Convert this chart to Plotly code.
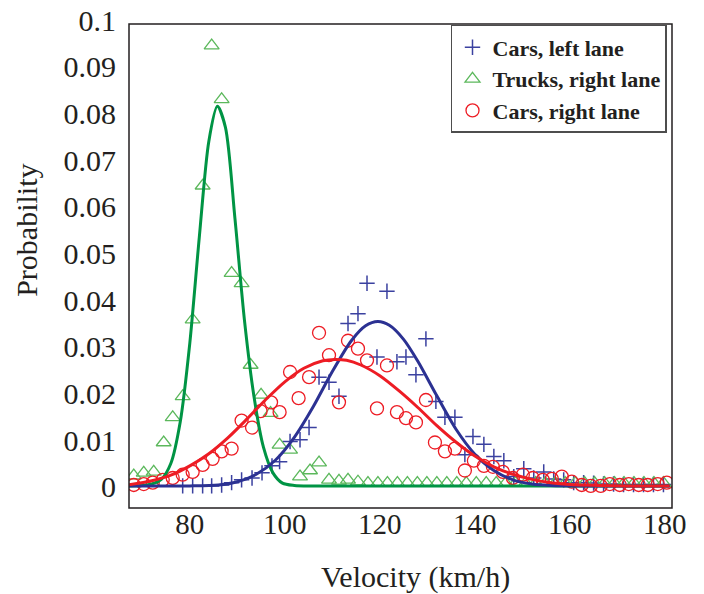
import plotly.graph_objects as go

# ---------------- data ----------------
cars_left_x = [78.5, 80.6, 82.7, 84.6, 86.7, 88.8, 90.9, 93.1, 95.2, 97.3,
               98.9, 101.1, 103.2, 105.1, 107.2, 109.3, 111.4, 113.3, 115.4, 117.3,
               119.4, 121.5, 123.6, 125.5, 127.6, 129.7, 131.8, 133.7, 135.8, 137.9,
               139.6, 141.9, 144.0, 146.1, 148.2, 150.3, 152.4, 154.5, 156.6, 158.7,
               160.8, 162.9, 165.0, 167.1, 169.2, 171.3, 173.4, 175.5, 177.6, 179.7]
cars_left_y = [0.0002, 0.0002, 0.0002, 0.0002, 0.0004, 0.0009, 0.0015, 0.0019, 0.0030, 0.0045,
               0.0054, 0.0097, 0.0101, 0.0127, 0.0235, 0.0224, 0.0194, 0.0350, 0.0371, 0.0436,
               0.0278, 0.0419, 0.0268, 0.0278, 0.0240, 0.0317, 0.0183, 0.0149, 0.0149, 0.0069,
               0.0108, 0.0091, 0.0065, 0.0056, 0.0022, 0.0039, 0.0019, 0.0032, 0.0017, 0.0015,
               0.0009, 0.0009, 0.0008, 0.0006, 0.0006, 0.0005, 0.0005, 0.0005, 0.0005, 0.0005]

trucks_right_x = [68.2, 70.3, 72.4, 74.5, 76.4, 78.5, 80.6, 82.7, 84.6, 86.7,
                  88.8, 90.9, 92.8, 95.0, 97.0, 98.9, 101.1, 103.2, 105.3, 107.2,
                  109.3, 111.4, 113.3, 115.4, 117.5, 119.6, 121.6, 123.7, 125.8, 127.9,
                  129.9, 132.0, 134.1, 136.2, 138.2, 140.3, 142.4, 144.5, 146.5, 148.6,
                  150.7, 152.8, 154.8, 156.9, 159.0, 161.1, 163.1, 165.2, 167.3, 169.4,
                  171.4, 173.5, 175.6, 177.7, 179.7]
trucks_right_y = [0.0024, 0.0030, 0.0032, 0.0095, 0.0149, 0.0194, 0.0358, 0.0645, 0.0945, 0.0830,
                  0.0458, 0.0436, 0.0261, 0.0197, 0.0158, 0.0090, 0.0079, 0.0022, 0.0035, 0.0052,
                  0.0015, 0.0013, 0.0015, 0.0011, 0.0008, 0.0008, 0.0008, 0.0008, 0.0008, 0.0008,
                  0.0008, 0.0008, 0.0008, 0.0008, 0.0008, 0.0008, 0.0008, 0.0008, 0.0008, 0.0008,
                  0.0008, 0.0008, 0.0008, 0.0008, 0.0008, 0.0008, 0.0008, 0.0008, 0.0008, 0.0008,
                  0.0008, 0.0008, 0.0008, 0.0008, 0.0008]

cars_right_x = [68.2, 70.3, 72.2, 74.3, 76.4, 78.5, 80.6, 82.7, 84.8, 86.7,
                88.8, 90.9, 93.1, 94.9, 97.1, 98.9, 101.1, 102.9, 105.1, 107.2,
                109.3, 111.4, 113.3, 115.4, 117.3, 119.4, 121.5, 123.6, 125.5, 127.6,
                129.7, 131.6, 133.7, 135.8, 137.9, 139.8, 141.9, 143.8, 145.9, 148.0,
                150.1, 152.2, 154.3, 156.2, 158.3, 160.4, 162.5, 164.4, 166.5, 168.4,
                170.5, 172.4, 174.5, 176.4, 178.5, 180.4]
cars_right_y = [0.0004, 0.0006, 0.0009, 0.0015, 0.0019, 0.0026, 0.0032, 0.0047, 0.0060, 0.0076,
                0.0082, 0.0142, 0.0127, 0.0162, 0.0181, 0.0160, 0.0246, 0.0190, 0.0235, 0.0330,
                0.0282, 0.0181, 0.0313, 0.0296, 0.0271, 0.0168, 0.0260, 0.0160, 0.0147, 0.0138,
                0.0186, 0.0095, 0.0076, 0.0082, 0.0035, 0.0056, 0.0045, 0.0043, 0.0032, 0.0019,
                0.0026, 0.0019, 0.0015, 0.0017, 0.0022, 0.0011, 0.0004, 0.0002, 0.0002, 0.0006,
                0.0004, 0.0006, 0.0004, 0.0004, 0.0006, 0.0009]

# fitted curves
fit_trucks_x = [67, 70, 72, 74, 76, 78, 80, 82, 84, 85.8, 87.5, 89.5, 91.5, 93.5, 95.5, 97.5,
                99.5, 102, 106, 120, 140, 160, 181]
fit_trucks_y = [0.0002, 0.0003, 0.0006, 0.0016, 0.0050, 0.0140, 0.0308, 0.0535, 0.0740, 0.0815,
                0.0770, 0.0575, 0.0357, 0.0194, 0.0085, 0.0030, 0.0008, 0.0003, 0.0002, 0.0002,
                0.0002, 0.0002, 0.0002]

fit_left_x = [67, 80, 86, 90, 94, 98, 102, 106, 110, 114, 117, 119.6, 122, 125, 128, 132, 136,
              140, 144, 148, 152, 156, 165, 181]
fit_left_y = [0.0002, 0.0002, 0.0004, 0.0011, 0.0027, 0.0057, 0.0106, 0.0172, 0.0247, 0.0313,
              0.0345, 0.0354, 0.0346, 0.0316, 0.0269, 0.0195, 0.0124, 0.0070, 0.0035, 0.0015,
              0.0006, 0.0003, 0.0002, 0.0002]

fit_right_x = [67, 72, 76, 80, 84, 88, 92, 96, 100, 104, 108, 110.5, 113, 116, 120, 124, 128,
               132, 136, 140, 144, 148, 152, 156, 160, 166, 172, 181]
fit_right_y = [0.0004, 0.0013, 0.0025, 0.0045, 0.0071, 0.0105, 0.0145, 0.0187, 0.0225, 0.0254,
               0.0270, 0.0273, 0.0271, 0.0261, 0.0238, 0.0206, 0.0170, 0.0131, 0.0096, 0.0066,
               0.0043, 0.0027, 0.0016, 0.0009, 0.0005, 0.0003, 0.0002, 0.0002]

x_ticks = [80, 100, 120, 140, 160, 180]
y_ticks = [0, 0.01, 0.02, 0.03, 0.04, 0.05, 0.06, 0.07, 0.08, 0.09, 0.1]
y_tick_text = ["0", "0.01", "0.02", "0.03", "0.04", "0.05", "0.06", "0.07", "0.08", "0.09", "0.1"]

series_names = ["Cars, left lane", "Trucks, right lane", "Cars, right lane"]

# ---------------- styles ----------------
BLUE_LINE = "#2b3192"
BLUE_MK = "#3b41a0"
GREEN_LINE = "#009444"
GREEN_MK = "#5cb85c"
RED = "#ed1c24"
SERIF = "Liberation Serif"
TXT = "#231f20"

fig = go.Figure()

# markers
fig.add_trace(go.Scatter(x=cars_left_x, y=cars_left_y, mode="markers", name=series_names[0],
                         marker=dict(symbol="cross-thin", size=11, color=BLUE_MK,
                                     line=dict(color=BLUE_MK, width=1.5))))
fig.add_trace(go.Scatter(x=trucks_right_x, y=trucks_right_y, mode="markers", name=series_names[1],
                         marker=dict(symbol="triangle-up-open", size=13, color=GREEN_MK,
                                     line=dict(color=GREEN_MK, width=1.3))))
fig.add_trace(go.Scatter(x=cars_right_x, y=cars_right_y, mode="markers", name=series_names[2],
                         marker=dict(symbol="circle-open", size=13, color=RED,
                                     line=dict(color=RED, width=1.3))))

# fitted lines
fig.add_trace(go.Scatter(x=fit_trucks_x, y=fit_trucks_y, mode="lines", showlegend=False,
                         line=dict(color=GREEN_LINE, width=3, shape="spline", smoothing=0.8)))
fig.add_trace(go.Scatter(x=fit_left_x, y=fit_left_y, mode="lines", showlegend=False,
                         line=dict(color=BLUE_LINE, width=3, shape="spline", smoothing=0.8)))
fig.add_trace(go.Scatter(x=fit_right_x, y=fit_right_y, mode="lines", showlegend=False,
                         line=dict(color=RED, width=3, shape="spline", smoothing=0.8)))

PLOT_TOP, PLOT_BOTTOM = 20, 508
plot_h = PLOT_BOTTOM - PLOT_TOP

fig.update_layout(
    width=704, height=594,
    margin=dict(l=129, r=32, t=PLOT_TOP, b=594 - PLOT_BOTTOM),
    paper_bgcolor="white", plot_bgcolor="white",
    font=dict(family=SERIF, color=TXT),
    showlegend=True,
    legend=dict(x=0.593, y=0.99, xanchor="left", yanchor="top",
                bgcolor="white", bordercolor="#4d4d4d", borderwidth=1.5,
                font=dict(family=SERIF, size=22, color=TXT, weight="bold"),
                tracegroupgap=0, itemwidth=30),
    xaxis=dict(range=[67.2, 181.5], tickvals=x_ticks, showgrid=False, zeroline=False,
               showline=False, ticks="", tickfont=dict(family=SERIF, size=29, color=TXT),
               ticklabelstandoff=-4, automargin=False),
    yaxis=dict(range=[-0.00453, 0.1], tickvals=y_ticks, ticktext=y_tick_text,
               showgrid=False, zeroline=False, showline=False,
               ticks="", tickfont=dict(family=SERIF, size=30, color=TXT),
               ticklabelstandoff=12, automargin=False),
    shapes=[dict(type="rect", xref="paper", yref="paper", x0=0, x1=1,
                 y0=0, y1=1 - 4 / plot_h, line=dict(color="#231f20", width=1.5),
                 layer="above")],
    annotations=[
        dict(text="Probability", xref="paper", yref="paper", x=-0.19, y=(PLOT_BOTTOM - 230) / plot_h,
             textangle=-90, showarrow=False, font=dict(family=SERIF, size=30, color=TXT),
             xanchor="center", yanchor="middle"),
        dict(text="Velocity (km/h)", xref="paper", yref="paper", x=0.527,
             y=(PLOT_BOTTOM - 577) / plot_h,
             showarrow=False, font=dict(family=SERIF, size=30, color=TXT),
             xanchor="center", yanchor="middle"),
    ],
)

fig.write_html("out.html")
